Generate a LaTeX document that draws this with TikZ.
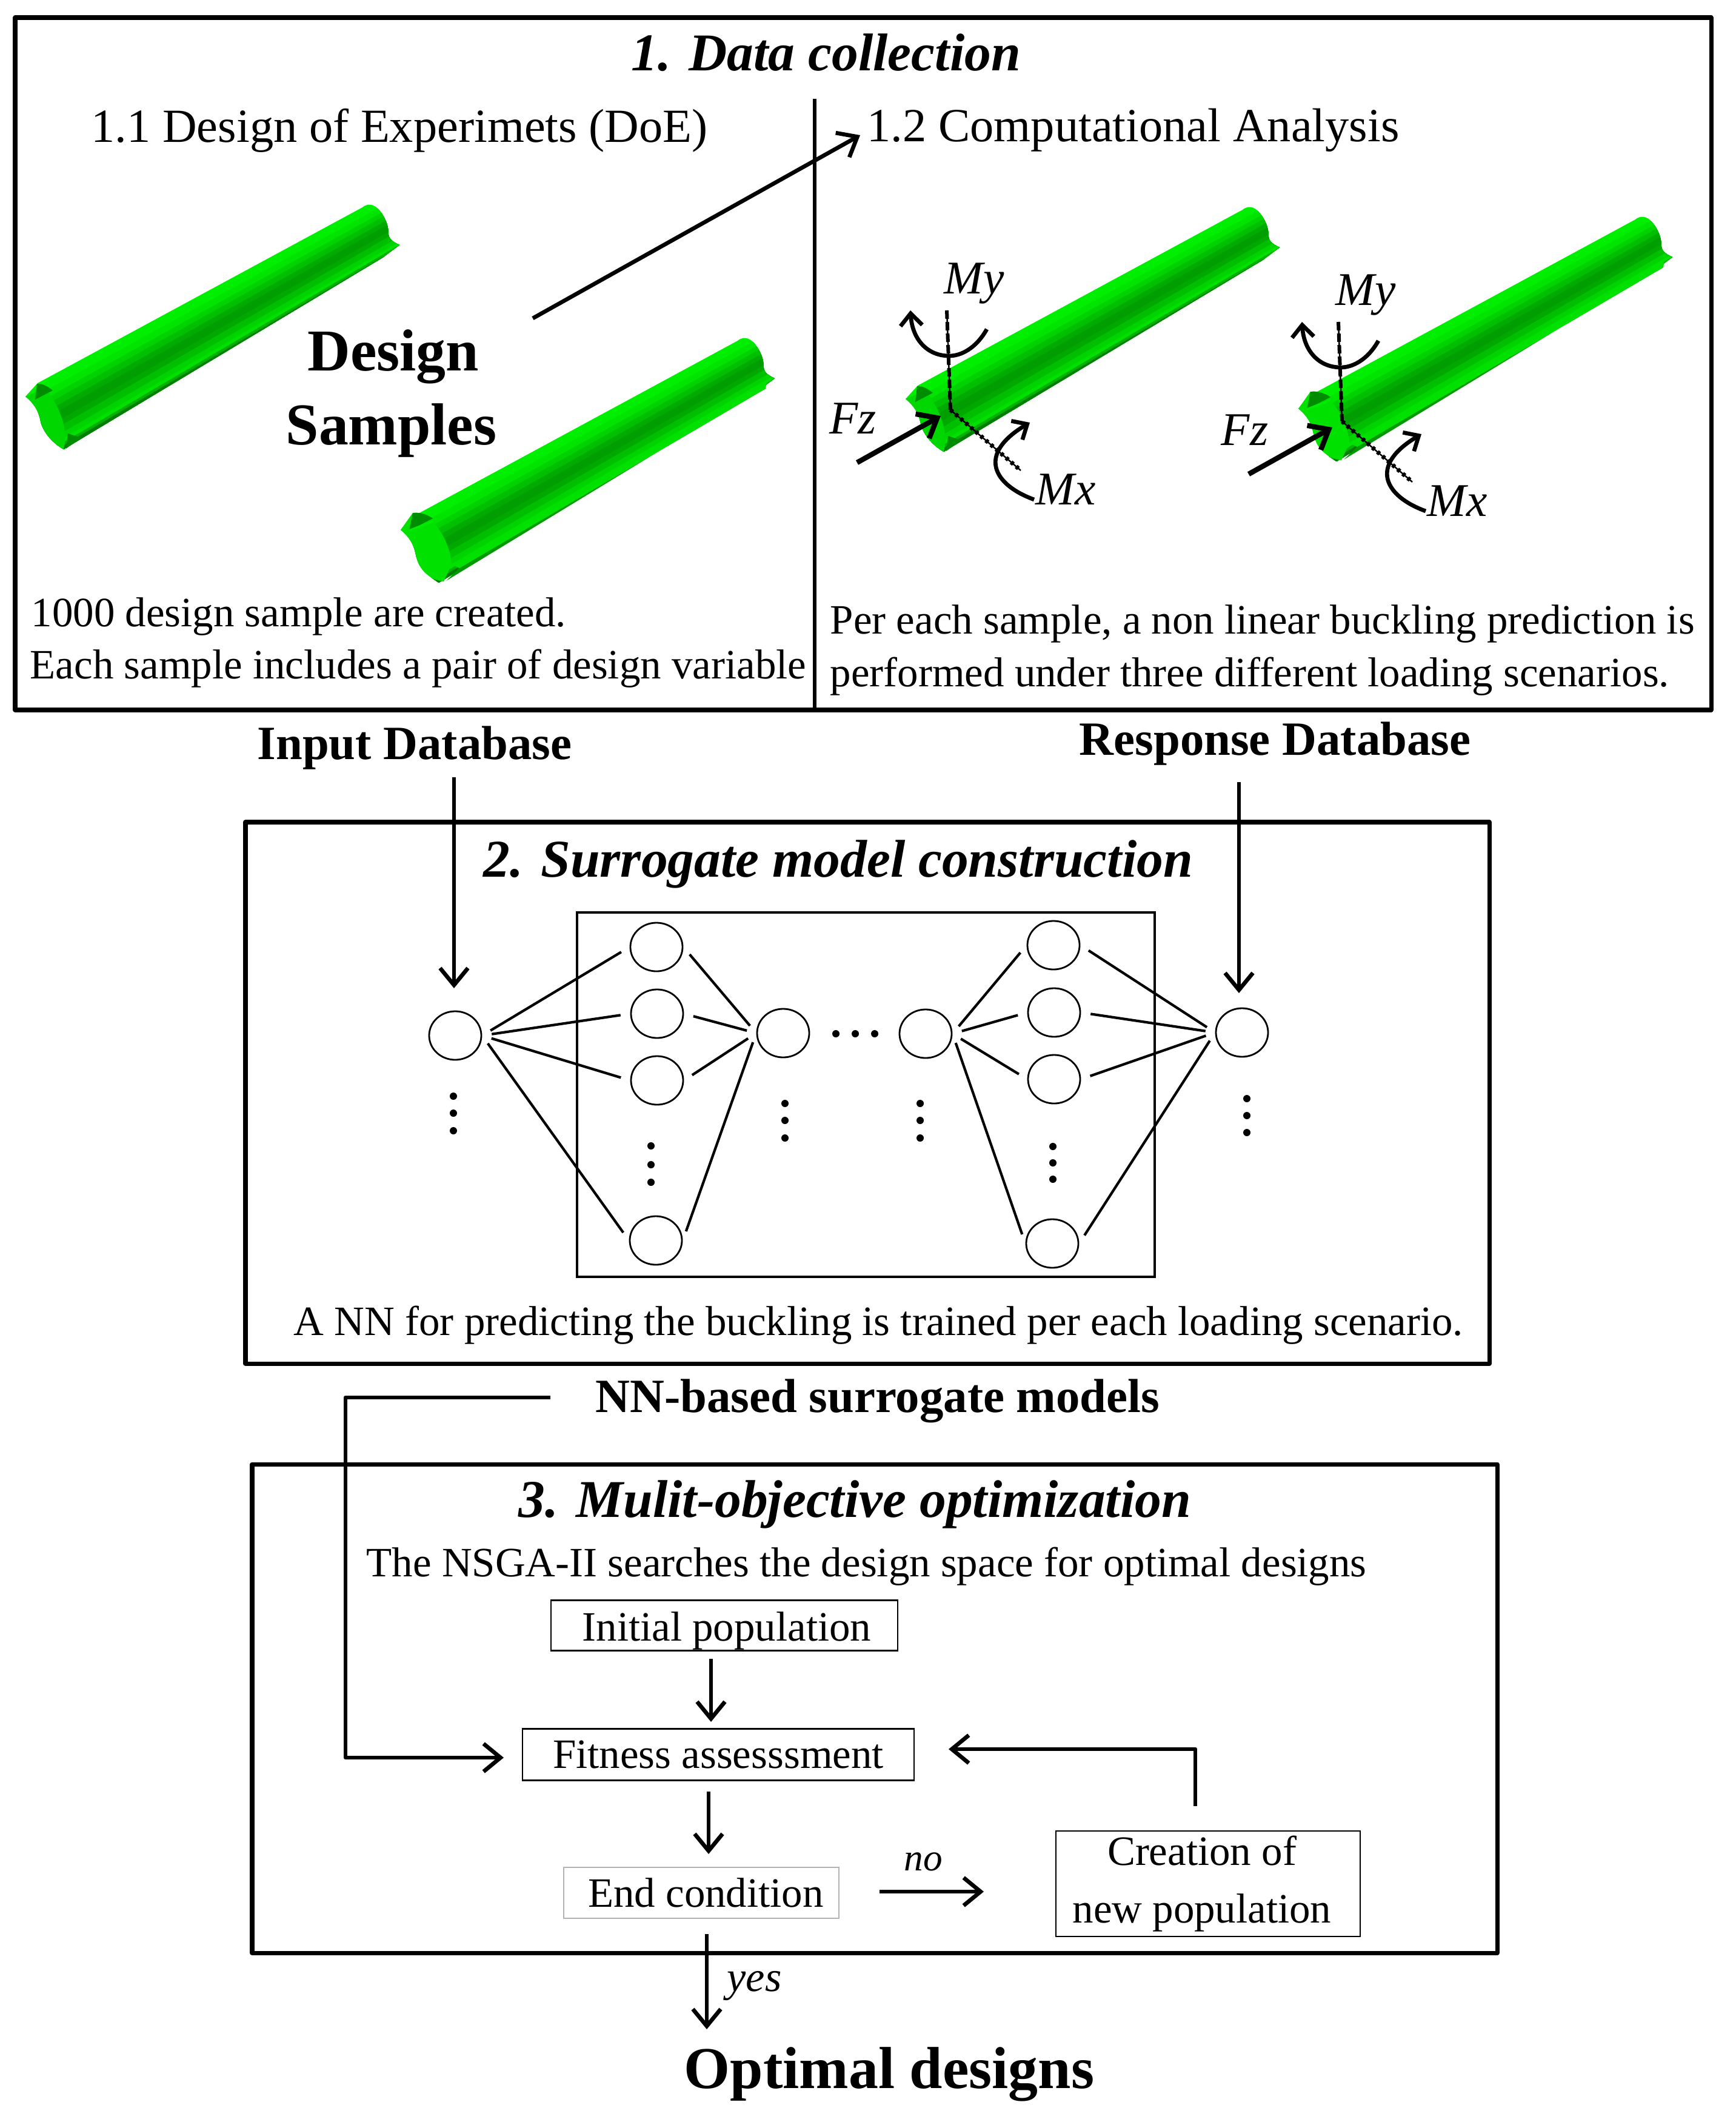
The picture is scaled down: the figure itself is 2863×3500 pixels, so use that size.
\documentclass[tikz,border=0pt]{standalone}
\usepackage{fontspec}
\setmainfont{Liberation Serif}
\usetikzlibrary{arrows.meta,shapes.geometric}

\tikzset{
  frame/.style={line width=2pt,line join=round},
  anytxt/.style={anchor=base west,inner sep=0pt},
  bodytxt/.style={anytxt,font=\fontsize{19.6}{24}\selectfont},
  headtxt/.style={anytxt,font=\fontsize{22.3}{26}\selectfont},
  titletxt/.style={anytxt,font=\fontsize{24.9}{30}\selectfont\bfseries\itshape},
  boldtxt/.style={anytxt,font=\fontsize{22.4}{26}\selectfont\bfseries},
  largetxt/.style={anytxt,font=\fontsize{27.8}{32}\selectfont\bfseries},
  loadtxt/.style={anytxt,font=\fontsize{22}{26}\selectfont\itshape},
  netnode/.style={draw,ellipse,line width=0.8pt,minimum width=0.86cm,minimum height=0.80cm,inner sep=0pt},
  netlink/.style={line width=1.2pt,shorten <=0.16cm,shorten >=0.16cm},
  flowbox/.style={draw,line width=0.7pt,inner sep=0pt,align=center,font=\fontsize{19.6}{27}\selectfont},
  bigarrow/.style={line width=1.9pt,-{Straight Barb[length=0.28cm,width=0.46cm]}},
  moment/.style={line width=1.9pt,-{Straight Barb[length=0.2cm,width=0.36cm]}},
}

% One tube, shifted; with #3=1 it also gets the rib and the wider end
\newcommand{\greentube}[3]{%
  \begin{scope}[shift={(#1,#2)}]
    \begin{scope}
      \clip (62,632) -- (598,342) .. controls (610,332) and (622,340) .. (630,352)
        .. controls (638,364) and (641,375) .. (641,387)
        .. controls (642,395) and (650,400) .. (659,404) -- (631,425) -- (105,741)
        .. controls (85,730) and (70,710) .. (67,695)
        .. controls (63,675) and (55,665) .. (42,654) -- cycle;
      \foreach \v/\g in {-0.1/238,0.15/228,0.25/210,0.33/190,0.42/170,0.50/158,0.62/168,0.70/190,0.80/212,0.88/225,0.93/175,0.97/125}{
        \definecolor{tubeband}{RGB}{0,\g,0}
        \fill[tubeband] ({7+43*\v},{662+109*\v}) -- ({665+21*\v},{306+89*\v}) -- (700,500) -- (100,850) -- cycle;
      }
    \end{scope}
    \ifnum#3=1
      % rib along the lower edge
      \fill[green!60!black] (139,717) -- (644,421) -- (631,425) -- (117,738) -- cycle;
      \definecolor{ribgreen}{RGB}{0,225,0}
      \fill[ribgreen] (126,711) -- (646,409) -- (644,421) -- (139,717) -- cycle;
      \definecolor{capgreen}{RGB}{0,225,0}
      \fill[capgreen] (42,654) .. controls (55,665) and (63,675) .. (67,695)
        .. controls (70,715) and (85,735) .. (113,739) -- (126,711) .. controls (125,690) and (115,660) .. (90,635) -- (62,626) -- cycle;
      \fill[green!55!black] (62,626) .. controls (75,624) and (88,630) .. (95,635) -- (56,655) -- cycle;
      \definecolor{linegreen}{RGB}{0,235,0}
      \draw[linegreen,line width=1pt] (56,655) -- (95,640);
    \else
      \definecolor{capgreen}{RGB}{0,215,0}
      \fill[capgreen] (42,654) .. controls (55,665) and (63,675) .. (67,695)
        .. controls (70,710) and (85,730) .. (105,741) .. controls (112,715) and (105,680) .. (75,640) -- cycle;
      \fill[green!55!black] (61,633) .. controls (72,632) and (82,640) .. (87,644) -- (58,659) -- cycle;
      \fill[green!55!black] (112,715) -- (134,722) -- (109,740) -- cycle;
    \fi
  \end{scope}}

% Loads on a tube
\newcommand{\loadset}[3]{%
  \begin{scope}[shift={(#1,#2)}]
    \coordinate (fzstart#3) at (1414,763);
    \coordinate (fzend#3) at (1552,686);
    \coordinate (mytop#3) at (1562,512);
    \coordinate (orig#3) at (1568,676);
    \coordinate (mxend#3) at (1684,776);
    \draw[line width=0.7pt] (mytop#3) -- (orig#3);
    \draw[line width=1.7pt,dash pattern=on 0.14cm off 0.05cm] (mytop#3) -- (orig#3);
    \draw[line width=0.7pt] (orig#3) -- (mxend#3);
    \draw[line width=2pt,dash pattern=on 0.05cm off 0.06cm] (orig#3) -- (mxend#3);
    \draw[bigarrow,line width=2.4pt] (fzstart#3) -- (fzend#3);
    \draw[moment] (1628,543) .. controls (1610,575) and (1585,587) .. (1566,587)
      .. controls (1530,587) and (1505,560) .. (1502,512);
    \draw[moment] (1706,824) .. controls (1640,800) and (1610,750) .. (1699,697);
    \node[loadtxt] (my#3) at (1557,484) {My};
    \node[loadtxt] (fz#3) at (1368,715) {Fz};
    \node[loadtxt] (mx#3) at (1708,832) {Mx};
  \end{scope}}

\begin{document}
\begin{tikzpicture}[x=0.01cm,y=-0.01cm]
  \useasboundingbox (0,0) rectangle (2863,3500);
  % Frames
  \draw[frame] (25,29) rectangle (2823,1171);
  \draw[line width=1.7pt] (1344,163) -- (1344,1171);
  \draw[frame] (405,1356) rectangle (2457,2249);
  \draw[frame] (416,2415) rectangle (2470,3221);

  % 1. Data collection
  \node[titletxt] (title1) at (1041,117) {1. Data collection};
  \node[headtxt] (doe) at (150,235) {1.1 Design of Experimets (DoE)};
  \node[headtxt] (analysis) at (1430,233) {1.2 Computational Analysis};
  \greentube{0}{0}{0}
  \greentube{619}{220}{1}
  \greentube{1452}{4}{0}
  \greentube{2100}{20}{1}
  \loadset{0}{0}{a}
  \loadset{646}{19}{b}
  \node[largetxt] (design) at (507,611) {Design};
  \node[largetxt] (samples) at (471,733) {Samples};
  \coordinate (samplesout) at (879,525);
  \coordinate (analysisin) at (1419,223);
  \draw[bigarrow] (samplesout) -- (analysisin);
  \node[bodytxt] (created) at (51,1033) {1000 design sample are created.};
  \node[bodytxt] (pair) at (49,1119) {Each sample includes a pair of design variable};
  \node[bodytxt] (perform) at (1369,1045) {Per each sample, a non linear buckling prediction is};
  \node[bodytxt] (scen) at (1369,1132) {performed under three different loading scenarios.};

  % Databases
  \node[boldtxt] (inputdb) at (424,1252) {Input Database};
  \node[boldtxt] (respdb) at (1780,1245) {Response Database};

  % 2. Surrogate model
  \node[titletxt] (title2) at (797,1446) {2. Surrogate model construction};
  \draw[line width=1pt] (952,1505) rectangle (1905,2106);
  \node[netnode] (inn) at (751,1708) {};
  \node[netnode] (p1) at (1083,1562) {};
  \node[netnode] (p2) at (1084,1672) {};
  \node[netnode] (p3) at (1084,1782) {};
  \node[netnode] (p4) at (1082,2046) {};
  \node[netnode] (m1) at (1292,1704) {};
  \node[netnode] (m2) at (1527,1705) {};
  \node[netnode] (q1) at (1738,1559) {};
  \node[netnode] (q2) at (1739,1670) {};
  \node[netnode] (q3) at (1739,1780) {};
  \node[netnode] (q4) at (1736,2051) {};
  \node[netnode] (outn) at (2049,1703) {};
  \foreach \n in {1,2,3,4}{
    \draw[netlink] (inn.east) -- (p\n.west);
    \draw[netlink] (p\n.east) -- (m1.west);
    \draw[netlink] (m2.east) -- (q\n.west);
    \draw[netlink] (q\n.east) -- (outn.west);
  }
  % Dots
  \foreach \px/\py in {748/1808,748/1836,748/1865,1074/1890,1074/1921,1074/1950,1295/1820,1295/1848,1295/1877,1518/1820,1518/1848,1518/1877,1737/1891,1737/1918,1737/1945,2057/1812,2057/1840,2057/1868,1379/1705,1411/1705,1443/1705}{
    \fill (\px,\py) ellipse (6 and 6);
  }
  \coordinate (inend) at (749,1630);
  \coordinate (outend) at (2044,1638);
  \draw[bigarrow] (749,1282) -- (inend);
  \draw[bigarrow] (2044,1290) -- (outend);
  \node[bodytxt] (trained) at (484,2202) {A NN for predicting the buckling is trained per each loading scenario.};
  \node[boldtxt] (nnmodels) at (982,2329) {NN-based surrogate models};

  % 3. Optimization
  \node[titletxt] (title3) at (855,2502) {3. Mulit-objective optimization};
  \node[bodytxt] (nsga) at (604,2600) {The NSGA-II searches the design space for optimal designs};
  \node[flowbox,minimum width=5.72cm,minimum height=0.83cm,text depth=0pt,text height=0.51cm] (initbox) at (1195,2681) {\hspace*{0.08cm}Initial population};
  \node[flowbox,minimum width=6.46cm,minimum height=0.85cm] (fitbox) at (1185,2894) {Fitness assesssment};
  \node[flowbox,draw=gray!60,minimum width=4.54cm,minimum height=0.84cm] (endbox) at (1157,3122) {\hspace*{0.15cm}End condition};
  \node[flowbox,minimum width=5.02cm,minimum height=1.74cm] (newbox) at (1993,3107) {\hspace*{-0.2cm}Creation of\\\hspace*{-0.2cm}new population};
  \coordinate (fitin) at (1173,2840);
  \coordinate (endin) at (1169,3058);
  \coordinate (nosrc) at (1451,3120);
  \coordinate (noend) at (1623,3120);
  \coordinate (fitleft) at (831,2899);
  \coordinate (corner) at (570,2899);
  \coordinate (nnstart) at (908,2305);
  \coordinate (yesend) at (1166,3347);
  \coordinate (newup) at (1972,2979);
  \coordinate (fitback) at (1565,2885);
  \draw[bigarrow] (initbox.south -| fitin) ++(0,12) -- (fitin);
  \draw[bigarrow] (fitbox.south -| endin) ++(0,17) -- (endin);
  \draw[bigarrow] (endbox.south -| yesend) ++(0,25) -- (yesend);
  \draw[bigarrow] (nosrc) -- (noend);
  \draw[bigarrow,line join=round] (newup) -- (newup |- fitback) -- (fitback);
  \draw[bigarrow,line join=round] (nnstart) -| (corner) -- (fitleft);
  \node[anytxt,font=\fontsize{18}{22}\selectfont\itshape] (nolabel) at (1491,3085) {no};
  \node[anytxt,font=\fontsize{20}{24}\selectfont\itshape] (yeslabel) at (1199,3284) {yes};
  \node[largetxt] (optimal) at (1128,3444) {Optimal designs};
\end{tikzpicture}
\end{document}
